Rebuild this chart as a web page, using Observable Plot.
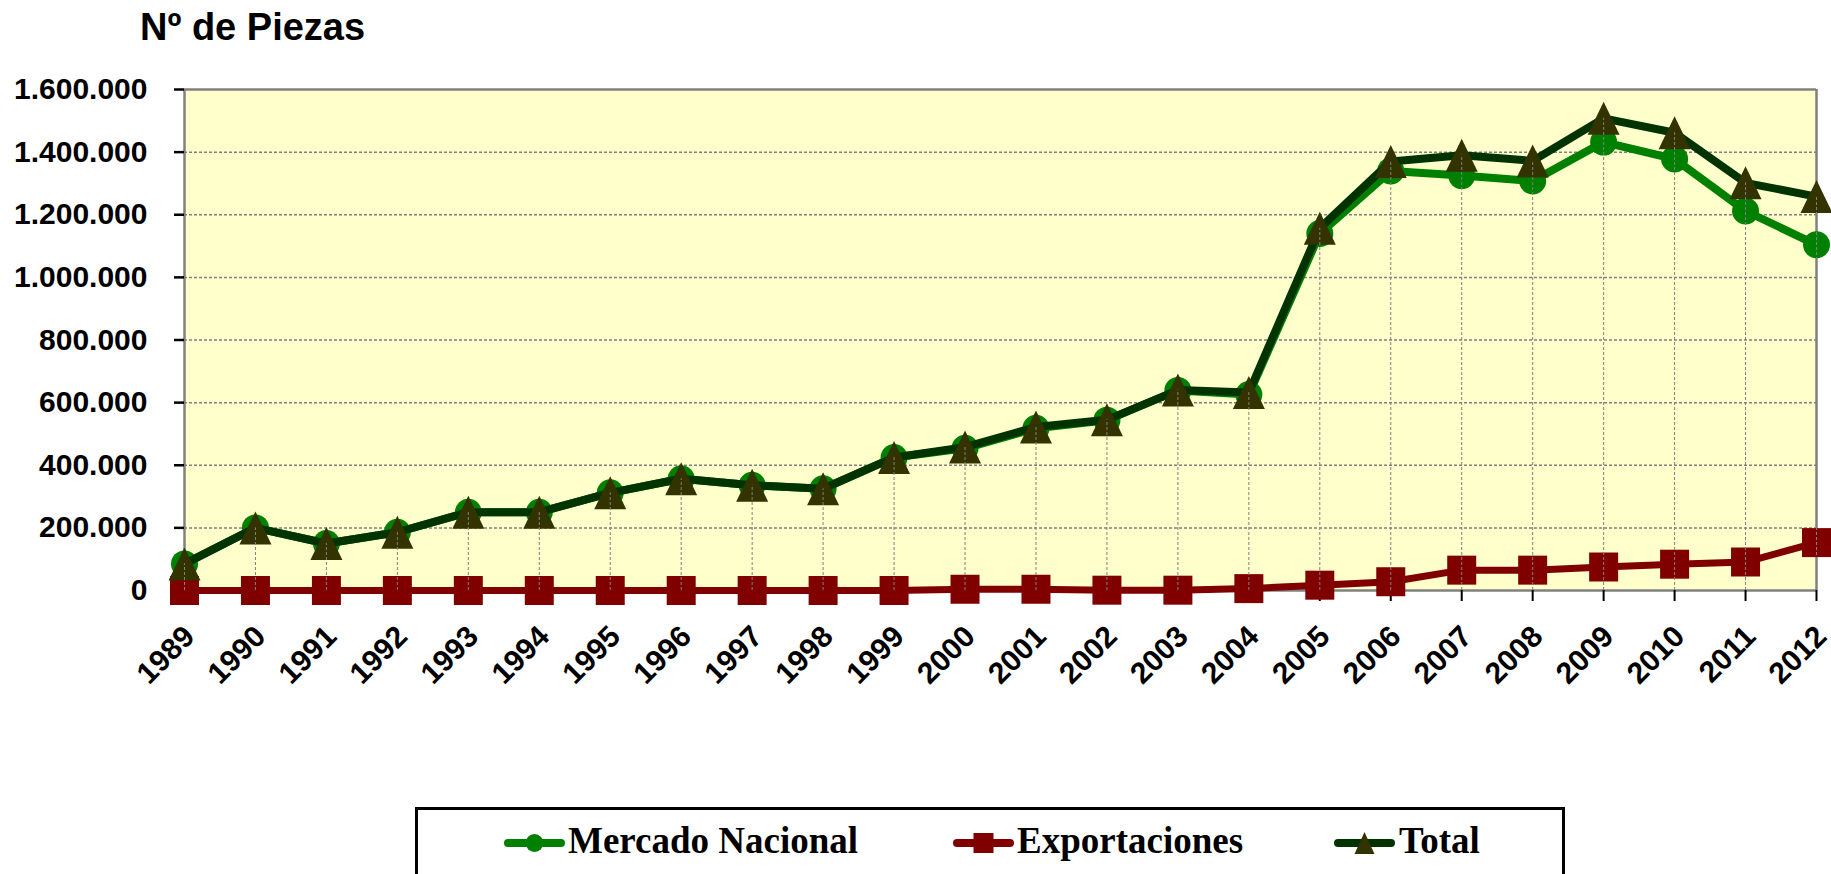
<!DOCTYPE html>
<html><head><meta charset="utf-8">
<script src="https://cdn.jsdelivr.net/npm/d3@7"></script>
<script src="https://cdn.jsdelivr.net/npm/@observablehq/plot@0.6"></script>
<style>
html,body{margin:0;padding:0;background:#fff;width:1831px;height:874px;overflow:hidden;}
#title{position:absolute;left:140px;top:8px;font:bold 38px/38px "Liberation Sans",Arial,sans-serif;color:#000;white-space:nowrap;}
#chart{position:absolute;left:0;top:62px;}
#legend{position:absolute;left:415px;top:807px;width:1144px;height:100px;border:3px solid #000;background:#fff;}
.sym{position:absolute;top:18px;}
.lab{position:absolute;top:12px;font:bold 37px/37px "Liberation Serif","Times New Roman",serif;color:#000;white-space:nowrap;}
</style>
</head><body>
<div id="title">Nº de Piezas</div>
<div id="chart"></div>
<div id="legend"></div>
<script>
const years = [1989,1990,1991,1992,1993,1994,1995,1996,1997,1998,1999,2000,2001,2002,2003,2004,2005,2006,2007,2008,2009,2010,2011,2012];
const mercado = [85000,200000,150000,186000,250000,250000,312000,357000,336000,325000,425000,454000,518000,544000,639000,626000,1140000,1340000,1325000,1308000,1432000,1378000,1212000,1104000];
const exportaciones = [0,0,0,0,0,0,0,0,0,0,0,4000,4000,1000,1000,6000,17000,28000,65000,65000,75000,84000,91000,153000];
const total = [85000,200000,150000,186000,250000,250000,312000,357000,336000,325000,425000,458000,522000,545000,640000,632000,1157000,1370000,1390000,1372000,1508000,1462000,1302000,1258000];
const yTicks = [0,200000,400000,600000,800000,1000000,1200000,1400000,1600000];
const seriesNames = ["Mercado Nacional","Exportaciones","Total"];
const lineColors = ["#008000","#800000","#003300"];
const markerColors = ["#008000","#800000","#333300"];

const rows = years.map((year,i)=>({year, mercado: mercado[i], exportaciones: exportaciones[i], total: total[i]}));
const es = d3.formatLocale({decimal: ",", thousands: ".", grouping: [3], currency: ["","€"]});
const fmt = es.format(",d");

const triangle = {draw(context, size){ const r = Math.sqrt(size/Math.PI); const w = r*0.97; context.moveTo(0,-r); context.lineTo(w,r); context.lineTo(-w,r); context.closePath(); }};
const square = {draw(context, size){ const r = Math.sqrt(size/Math.PI); context.rect(-r,-r,2*r,2*r); }};

const chart = Plot.plot({
  width: 1831, height: 720,
  marginLeft: 184, marginRight: 15, marginTop: 27, marginBottom: 192,
  x: {type: "linear", domain: [1989, 2012]},
  y: {domain: [0, 1600000]},
  style: {fontFamily: '"Liberation Sans", Arial, sans-serif', background: "transparent", overflow: "visible", color: "#000"},
  marks: [
    Plot.frame({fill: "#FFFFCC", stroke: null}),
    Plot.ruleY(yTicks.slice(1,-1), {stroke:"#808080", strokeWidth:1.5, strokeDasharray:"3,2"}),
    Plot.ruleY([1600000], {stroke:"#808080", strokeWidth:2.5}),
    Plot.ruleX([2012], {stroke:"#808080", strokeWidth:2.5}),
    Plot.ruleX([1989], {stroke:"#808080", strokeWidth:2.5}),
    Plot.ruleY([0], {stroke:"#808080", strokeWidth:2.5}),
    Plot.axisY({ticks: yTicks, tickSize: 10, tickPadding: 27, tickFormat: fmt, fontSize: 30, fontWeight: "bold", stroke: "#000", strokeWidth: 2.5, label: null}),
    Plot.axisX({ticks: years, tickSize: 11, tickFormat: () => "", stroke: "#000", strokeWidth: 2, label: null}),
    Plot.axisX({ticks: years, tickSize: 0, tickPadding: 41, dx: 5, tickRotate: -45, tickFormat: d => String(d), fontSize: 30, fontWeight: "bold", label: null}),
    Plot.line(rows, {x:"year", y:"mercado", stroke: lineColors[0], strokeWidth: 8}),
    Plot.dot(rows, {x:"year", y:"mercado", r: 13.5, fill: markerColors[0]}),
    Plot.line(rows, {x:"year", y:"exportaciones", stroke: lineColors[1], strokeWidth: 7}),
    Plot.dot(rows, {x:"year", y:"exportaciones", r: 14.5, symbol: square, fill: markerColors[1]}),
    Plot.line(rows, {x:"year", y:"total", stroke: lineColors[2], strokeWidth: 8}),
    Plot.dot(rows, {x:"year", y:"total", r: 16.5, symbol: triangle, fill: markerColors[2]}),
    Plot.ruleX(rows, {x:"year", y1: 0, y2: "total", stroke:"#808080", strokeWidth: 1, strokeDasharray:"3,2"})
  ]
});
document.getElementById("chart").appendChild(chart);

// legend
const legend = document.getElementById("legend");
const symLeft = [86, 535, 916];
const labLeft = [150, 599, 981];
const symbolSvg = [
  `<circle cx="30.5" cy="15" r="9" fill="${markerColors[0]}"/>`,
  `<rect x="20.5" y="5" width="20" height="20" fill="${markerColors[1]}"/>`,
  `<path d="M30.5,4 L40.5,26 L20.5,26 Z" fill="${markerColors[2]}"/>`
];
seriesNames.forEach((name, i) => {
  const s = document.createElement("div");
  s.className = "sym";
  s.style.left = symLeft[i] + "px";
  s.innerHTML = `<svg width="61" height="30"><line x1="4" y1="15" x2="57" y2="15" stroke="${lineColors[i]}" stroke-width="8" stroke-linecap="round"/>${symbolSvg[i]}</svg>`;
  legend.appendChild(s);
  const t = document.createElement("div");
  t.className = "lab";
  t.style.left = labLeft[i] + "px";
  t.textContent = name;
  legend.appendChild(t);
});
</script>
</body></html>
